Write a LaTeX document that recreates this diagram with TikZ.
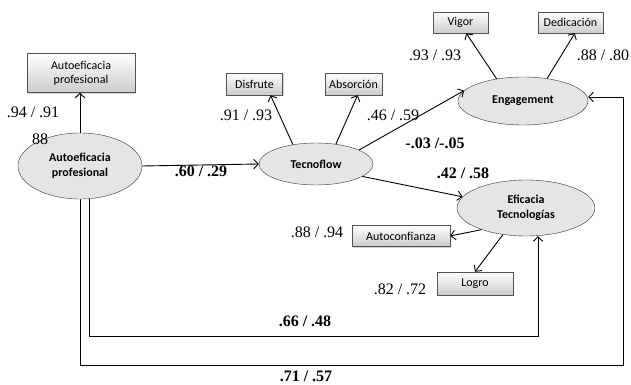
\documentclass[tikz,border=0pt]{standalone}
\usepackage{fontspec}
\setmainfont{Liberation Serif}
\newfontfamily\boxfont{Carlito}
\usetikzlibrary{shapes.geometric}
\usetikzlibrary{shadows}
\usetikzlibrary{arrows.meta}
\usetikzlibrary{calc}

\begin{document}
\begin{tikzpicture}[x=1pt, y=1pt, >={Straight Barb[length=4.5pt,width=9.5pt]},
  indicator/.style={draw=gray!65!black, top color=white, bottom color=gray!40, drop shadow={shadow xshift=1.2pt, shadow yshift=-1.5pt, opacity=0.35}, inner sep=0pt, align=center, font=\boxfont\fontsize{12}{14}\selectfont},
  factor/.style={ellipse, draw=gray!40!black, fill=gray!20, inner sep=0pt, align=center, font=\boxfont\bfseries\fontsize{12}{15}\selectfont},
  edgeline/.style={->, line width=0.9pt},
  coef/.style={font=\fontsize{16}{18}\selectfont},
  coefb/.style={font=\bfseries\fontsize{16}{18}\selectfont}]

\useasboundingbox (0,0) rectangle (631,385);

% Autoeficacia
  \node[indicator, minimum width=108, minimum height=39] (aepbox) at (81,312) {Autoeficacia\\profesional};
  \node[factor, minimum width=124, minimum height=66] (aep) at (80,219) {Autoeficacia\\profesional};

% Tecnoflow
  \node[factor, minimum width=114, minimum height=42] (tecno) at (316,221) {Tecnoflow};
  \node[indicator, minimum width=56, minimum height=22] (disfrute) at (254.5,301) {Disfrute};
  \node[indicator, minimum width=57, minimum height=22] (absorcion) at (353.5,301) {Absorción};

% Engagement
  \node[factor, minimum width=130, minimum height=48] (engage) at (523,284) {Engagement};
  \node[indicator, minimum width=55, minimum height=21] (vigor) at (460.5,362.5) {Vigor};
  \node[indicator, minimum width=65, minimum height=21] (dedicacion) at (570.5,362.5) {Dedicación};

% Eficacia
  \node[factor, minimum width=138, minimum height=56] (eficacia) at (526,177) {Eficacia\\Tecnologías};
  \node[indicator, minimum width=98, minimum height=21] (autoconf) at (401,149) {Autoconfianza};
  \node[indicator, minimum width=76, minimum height=23] (logro) at (475,101.5) {Logro};

% loadings
  \draw[edgeline] (aep.north) -- (aep.north |- aepbox.south);
  \draw[edgeline] (tecno.140) -- (disfrute.-35);
  \draw[edgeline] (tecno.45) -- (absorcion.-70);
  \draw[edgeline] (engage.140) -- (vigor.-62);
  \draw[edgeline] (engage.43) -- (dedicacion.-68);
  \draw[edgeline] (eficacia.206) -- (autoconf.east);
  \draw[edgeline] (eficacia.229) -- (logro.north);

% paths
  \draw[edgeline] (aep.east) -- (tecno.west);
  \draw[edgeline] (tecno.18) -- (engage.170);
  \draw[edgeline] (tecno.-15) -- (eficacia.170);

  \coordinate (innerBL) at (89,49);
  \coordinate (innerBR) at (538,49);
  \draw[edgeline] (innerBL |- aep.south) -- (innerBL) -- (innerBR) -- (innerBR |- eficacia.south);

  \coordinate (outerBL) at (80,20);
  \coordinate (outerBR) at (623,20);
  \coordinate (outerTR) at (623,288);
  \draw[edgeline] (aep.south) -- (outerBL) -- (outerBR) -- (outerTR) -- (outerTR -| engage.east);

% coefficients
  \node[coef] (c1) at (33,273) {.94 / .91};
  \node[coef] (c2) at (40,246) {88};
  \node[coefb] (c3) at (201,214) {.60 / .29};
  \node[coef] (c4) at (246,270) {.91 / .93};
  \node[coef] (c5) at (393,270) {.46 / .59};
  \node[coefb] (c6) at (435,242) {-.03 /-.05};
  \node[coefb] (c7) at (463,212) {.42 / .58};
  \node[coef] (c8) at (435,330) {.93 / .93};
  \node[coef] (c9) at (603,330) {.88 / .80};
  \node[coef] (c10) at (317,153) {.88 / .94};
  \node[coef] (c11) at (400,96) {.82 / .72};
  \node[coefb] (c12) at (305,64) {.66 / .48};
  \node[coefb] (c13) at (306,9) {.71 / .57};

\end{tikzpicture}
\end{document}
